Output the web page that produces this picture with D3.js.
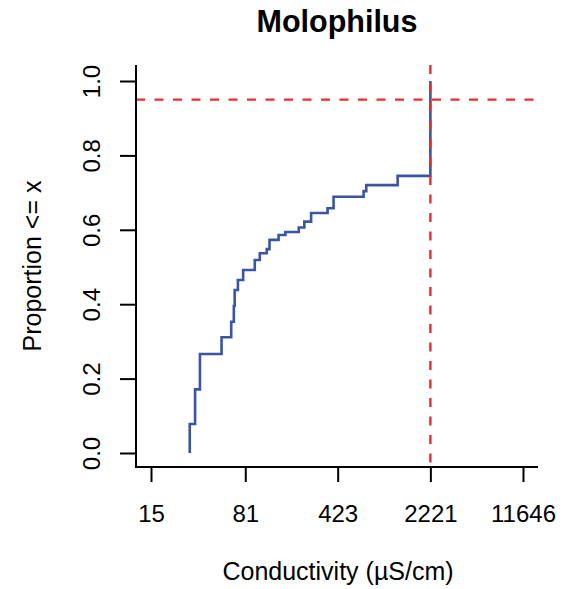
<!DOCTYPE html>
<html>
<head>
<meta charset="utf-8">
<script src="https://cdn.jsdelivr.net/npm/d3@7"></script>
<style>
  html, body { margin: 0; padding: 0; background: #fff; }
  svg { display: block; font-family: "Liberation Sans", Arial, Helvetica, sans-serif; }
</style>
</head>
<body>
<svg id="chart" width="580" height="589"></svg>
<script>
// ---- data ----
const titleText = "Molophilus";
const xLabelText = "Conductivity (µS/cm)";
const yLabelText = "Proportion <= x";
const conductivity = [30, 33, 36, 53, 63, 66, 67, 71, 78, 96, 105, 119, 125, 147, 166, 211, 233, 263, 353, 393, 673, 706, 1237, 2221];
const proportion   = [0.078, 0.171, 0.266, 0.311, 0.353, 0.395, 0.438, 0.465, 0.492, 0.519, 0.537, 0.548, 0.573, 0.586, 0.594, 0.606, 0.622, 0.645, 0.658, 0.689, 0.704, 0.720, 0.745, 1.0];
const xTickValues = [15, 81, 423, 2221, 11646];
const yTickValues = [0, 0.2, 0.4, 0.6, 0.8, 1.0];
const thresholdX = 2221;
const thresholdY = 0.95;

// ---- layout ----
const box = { left: 136, right: 538, top: 65, bottom: 467 };
const svg = d3.select("#chart");

const x = d3.scaleLog().domain([15, 11646]).range([151, 523]);
const y = d3.scaleLinear().domain([0, 1]).range([453, 81]);

const blue = "#3B54A4";
const red = "#EE2B2E";

// ECDF step line
const pts = [[conductivity[0], 0]].concat(conductivity.map((c, i) => [c, proportion[i]]));
const line = d3.line()
  .x(d => x(d[0]))
  .y(d => y(d[1]))
  .curve(d3.curveStepAfter);

svg.append("path")
  .datum(pts)
  .attr("d", line)
  .attr("fill", "none")
  .attr("stroke", blue)
  .attr("stroke-width", 2.6);

// reference lines
svg.append("line")
  .attr("x1", box.left).attr("x2", box.right + 2)
  .attr("y1", y(thresholdY)).attr("y2", y(thresholdY))
  .attr("stroke", red).attr("stroke-width", 2.4)
  .attr("stroke-dasharray", "9,9.5");

svg.append("line")
  .attr("x1", x(thresholdX)).attr("x2", x(thresholdX))
  .attr("y1", box.top).attr("y2", box.bottom)
  .attr("stroke", red).attr("stroke-width", 2.4)
  .attr("stroke-dasharray", "9,9.5");

// box (L shape)
svg.append("path")
  .attr("d", `M${box.left},${box.top}V${box.bottom}H${box.right}`)
  .attr("fill", "none")
  .attr("stroke", "#000")
  .attr("stroke-width", 2);

// x axis
const xAxis = d3.axisBottom(x)
  .tickValues(xTickValues)
  .tickFormat(d3.format("d"))
  .tickSize(15)
  .tickPadding(23);
const gx = svg.append("g")
  .attr("transform", `translate(0,${box.bottom})`)
  .call(xAxis);
gx.select(".domain").remove();
gx.selectAll(".tick line").attr("stroke", "#000").attr("stroke-width", 2);
gx.selectAll(".tick text")
  .attr("font-size", 24)
  .attr("font-family", "Liberation Sans, Arial, sans-serif")
  .attr("fill", "#000");

// y axis
const yAxis = d3.axisLeft(y)
  .tickValues(yTickValues)
  .tickFormat(d3.format(".1f"))
  .tickSize(16);
const gy = svg.append("g")
  .attr("transform", `translate(${box.left},0)`)
  .call(yAxis);
gy.select(".domain").remove();
gy.selectAll(".tick line").attr("stroke", "#000").attr("stroke-width", 2);
gy.selectAll(".tick text")
  .attr("x", null).attr("dy", null)
  .attr("font-size", 24)
  .attr("font-family", "Liberation Sans, Arial, sans-serif")
  .attr("fill", "#000")
  .attr("text-anchor", "middle")
  .attr("transform", `translate(${100 - box.left},0) rotate(-90)`);

// title
svg.append("text")
  .attr("x", 337).attr("y", 32)
  .attr("text-anchor", "middle")
  .attr("font-size", 30.5)
  .attr("font-weight", "bold")
  .attr("fill", "#000")
  .text(titleText);

// x label
svg.append("text")
  .attr("x", 338).attr("y", 580)
  .attr("text-anchor", "middle")
  .attr("font-size", 25)
  .attr("fill", "#000")
  .text(xLabelText);

// y label
svg.append("text")
  .attr("transform", `translate(41,${(box.top + box.bottom) / 2}) rotate(-90)`)
  .attr("text-anchor", "middle")
  .attr("font-size", 25)
  .attr("fill", "#000")
  .text(yLabelText);
</script>
</body>
</html>
